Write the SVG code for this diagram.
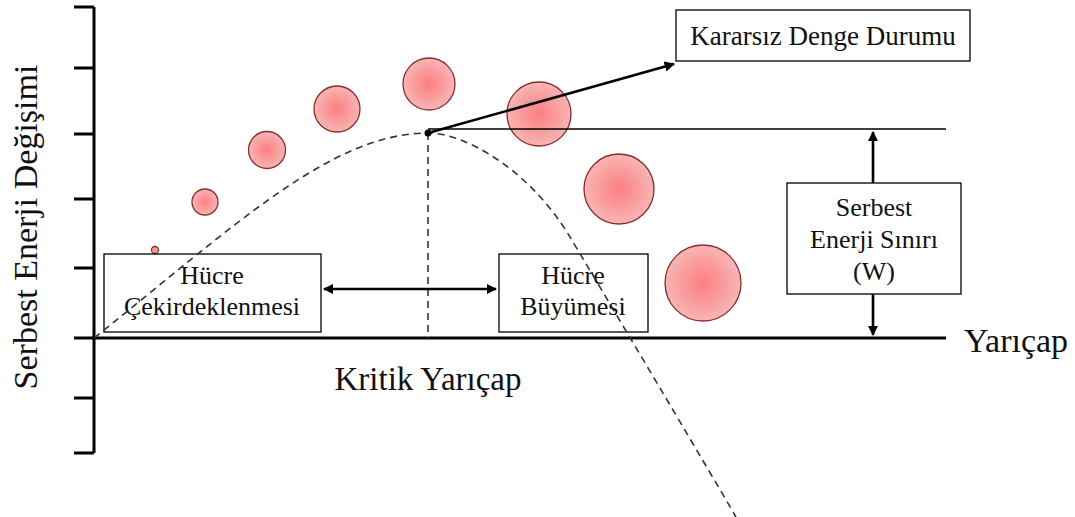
<svg xmlns="http://www.w3.org/2000/svg" width="1075" height="517" viewBox="0 0 1075 517">
  <defs>
    <radialGradient id="cellFill" cx="0.5" cy="0.5" r="0.5">
      <stop offset="0" stop-color="#fc7e80"/>
      <stop offset="1" stop-color="#f7b5b5"/>
    </radialGradient>
    <marker id="arrowEnd" viewBox="0 0 10 10" refX="9" refY="5" markerWidth="4" markerHeight="4" orient="auto-start-reverse" markerUnits="strokeWidth">
      <path d="M0,0 L10,5 L0,10 z" fill="#000"/>
    </marker>
  </defs>
  <style>
    .axis { stroke: #000; stroke-width: 3; fill: none; }
    .dash { stroke: #333; stroke-width: 1.6; fill: none; stroke-dasharray: 7 5; }
    .cell { fill: url(#cellFill); stroke: #8a2b2e; stroke-width: 1.3; }
    .box { fill: #fff; stroke: #000; stroke-width: 1.3; }
    .open { fill: none; }
    .lbl { font-family: "Liberation Serif", "Times New Roman", serif; fill: #111; text-anchor: middle; }
    .arrow { stroke: #000; stroke-width: 2.6; fill: none; }
  </style>
  <rect width="1075" height="517" fill="#fff"/>

  <!-- axes -->
  <g id="axes">
    <path class="axis" d="M94,7 V453 M74,7 H94 M74,68 H94 M74,134 H94 M74,199 H94 M74,268 H94 M74,338 H94 M74,398 H94 M74,453 H94"/>
    <path class="axis" d="M94,338 H946"/>
    <text class="lbl" x="0" y="0" font-size="34" transform="translate(37,227) rotate(-90)">Serbest Enerji Değişimi</text>
    <text class="lbl" x="1016" y="352" font-size="34">Yarıçap</text>
    <text class="lbl" x="428" y="390" font-size="33">Kritik Yarıçap</text>
  </g>

  <!-- growing cells -->
  <g id="cells">
    <circle class="cell" cx="155" cy="250" r="3.5"/>
    <circle class="cell" cx="205" cy="202" r="13"/>
    <circle class="cell" cx="267" cy="150" r="18.5"/>
    <circle class="cell" cx="337" cy="109" r="23"/>
    <circle class="cell" cx="429" cy="84" r="26"/>
    <circle class="cell" cx="539" cy="114" r="32"/>
    <circle class="cell" cx="619" cy="189" r="35"/>
    <circle class="cell" cx="703" cy="283" r="38"/>
  </g>

  <g id="node-kararsiz">
    <rect class="box" x="676" y="10" width="294" height="51"/>
    <text class="lbl" x="823" y="45" font-size="27">Kararsız Denge Durumu</text>
  </g>

  <g id="node-cekirdeklenme">
    <rect class="box open" x="104" y="254" width="217" height="78"/>
    <text class="lbl" x="212" y="284" font-size="26">Hücre</text>
    <text class="lbl" x="212" y="315" font-size="26">Çekirdeklenmesi</text>
  </g>

  <g id="node-buyume">
    <rect class="box open" x="499" y="254" width="149" height="78"/>
    <text class="lbl" x="573" y="284" font-size="26">Hücre</text>
    <text class="lbl" x="573" y="315" font-size="26">Büyümesi</text>
  </g>

  <!-- connectors -->
  <g id="connectors">
    <path class="dash" d="M94,338 C230,230 330,133 428,133 C465,133 530,170 570,237 C600,287 700,455 736,517"/>
    <path class="dash" d="M428,133 V338" stroke-dasharray="8 5"/>
    <path d="M428,129 H946" stroke="#000" stroke-width="1.3"/>
    <path class="arrow" d="M428,133 L674,64" marker-end="url(#arrowEnd)"/>
    <path class="arrow" d="M873,132 V335" marker-start="url(#arrowEnd)" marker-end="url(#arrowEnd)"/>
    <path class="arrow" d="M324,289 H496" marker-start="url(#arrowEnd)" marker-end="url(#arrowEnd)"/>
    <circle cx="428" cy="133" r="3.5" fill="#000"/>
  </g>

  <g id="node-sinir">
    <rect class="box" x="787" y="183" width="174" height="111"/>
    <text class="lbl" x="874" y="216" font-size="26">Serbest</text>
    <text class="lbl" x="874" y="248" font-size="26">Enerji Sınırı</text>
    <text class="lbl" x="874" y="280" font-size="26">(W)</text>
  </g>
</svg>
